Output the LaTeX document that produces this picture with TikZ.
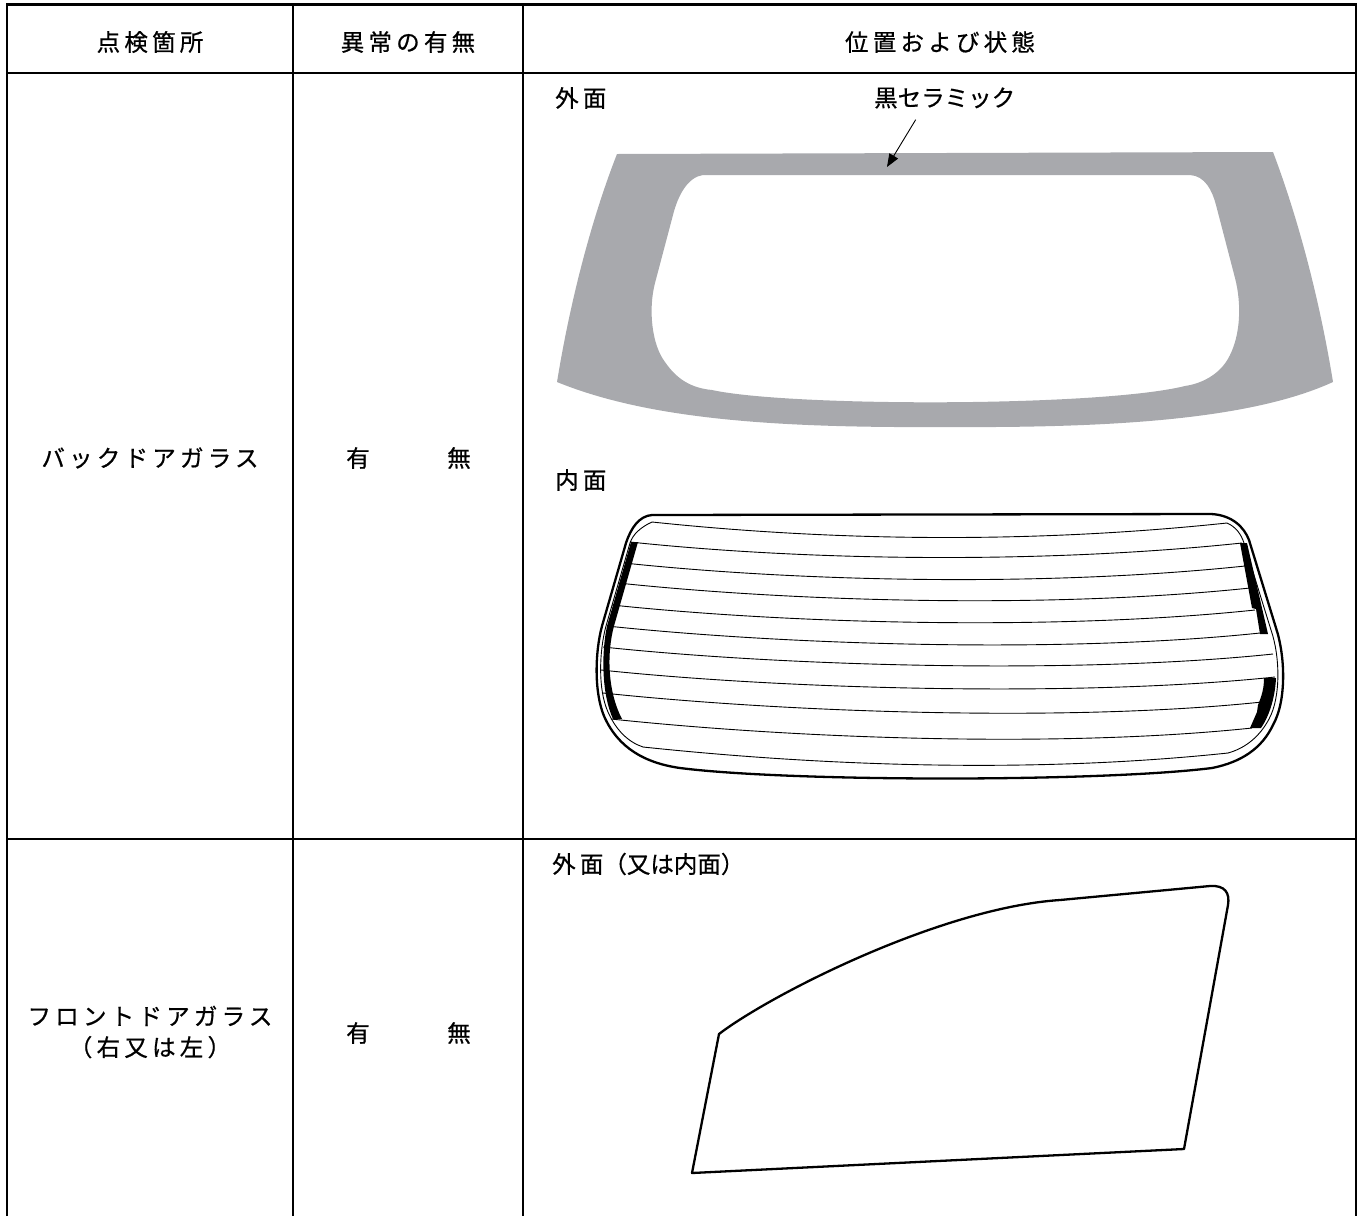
\documentclass[tikz,border=0pt]{standalone}
\usepackage{fontspec}
\newfontfamily\jpfont[LetterSpace=18,FakeBold=0.7]{Noto Sans CJK JP}
\newfontfamily\jpplain[FakeBold=0.7]{Noto Sans CJK JP}
\usepackage{tikz}
\usetikzlibrary{positioning,arrows.meta}
\definecolor{ceramic}{RGB}{168,169,173}

\begin{document}
\begin{tikzpicture}[x=1pt,y=-1pt,node distance=101pt]
\tikzstyle{cell}=[inner sep=0pt, font=\fontsize{23.5pt}{31pt}\jpfont]
\tikzstyle{every node}=[cell];
\tikzstyle{note}=[anchor=west]
\tikzstyle{frame}=[line width=2.6pt]
\tikzstyle{grid}=[line width=2pt]
\tikzstyle{glass}=[line width=2.3pt, line join=round]
\tikzstyle{wire}=[line width=0.9pt]

\useasboundingbox (0,0) rectangle (1360,1216);

% table
\draw[frame] (7,1216) -- (7,4.5) -- (1356,4.5) -- (1356,1216);
\draw[frame] (7,73) -- (1356,73);
\draw[grid] (293,4.5) -- (293,1216) (523,4.5) -- (523,1216);
\draw[grid] (7,839) -- (1356,839);

% header
\node (h1) at (150,42) {点検箇所};
\node (h2) at (408,42) {異常の有無};
\node (h3) at (940,42) {位置および状態};

% back door row
\node (bd) at (150,458) {バックドアガラス};
\node (bdyes) at (358,458) {有};
\node[right of = bdyes] (bdno) {無};
\node[note] (outside) at (555,98) {外面};
\node[note, font=\fontsize{23.5pt}{31pt}\jpplain] (ceramic) at (874,98) {黒セラミック};
\node[note] (inside) at (555,480) {内面};

% ceramic band
\fill[ceramic, even odd rule]
  (617,154) -- (1273,152) .. controls (1295,210) and (1318,290) .. (1333,382)
  .. controls (1250,420) and (1110,428) .. (945,427)
  .. controls (780,428) and (650,420) .. (557,382)
  .. controls (572,290) and (595,210) .. (617,154) -- cycle
  (703,175) .. controls (688,177) and (678,195) .. (673,215) -- (655,283)
  .. controls (648,310) and (652,345) .. (665,362)
  .. controls (676,378) and (690,388) .. (712,390)
  .. controls (790,407) and (1100,407) .. (1185,386)
  .. controls (1205,383) and (1222,372) .. (1230,355)
  .. controls (1240,335) and (1242,305) .. (1235,278) -- (1216,205)
  .. controls (1212,190) and (1205,176) .. (1190,175) -- cycle;
\coordinate (tip) at (887,167);
\draw[line width=0.9pt, -{Triangle[length=13pt,width=10pt]}] ([xshift=-29pt,yshift=-11pt]ceramic.south) -- (tip);

% inner face
\draw[glass] (652,515) -- (1211,514) .. controls (1232,515) and (1244,527) .. (1249,540)
  -- (1276,628) .. controls (1285,655) and (1287,700) .. (1273,725)
  .. controls (1262,748) and (1242,762) .. (1212,768)
  .. controls (1100,782) and (790,782) .. (680,768)
  .. controls (645,763) and (618,748) .. (604,716)
  .. controls (594,692) and (595,652) .. (602,626) -- (626,543)
  .. controls (631,528) and (639,516) .. (652,515) -- cycle;
\draw[wire] (652,522) .. controls (641,527) and (633,534) .. (630,543) -- (606,626)
  .. controls (599,652) and (598,690) .. (608,712)
  .. controls (616,730) and (628,742) .. (643,747);
\draw[wire] (1227,523) .. controls (1236,527) and (1241,534) .. (1244,543) -- (1271,630)
  .. controls (1280,656) and (1281,697) .. (1269,719)
  .. controls (1260,736) and (1246,748) .. (1228,753);
\foreach \xl/\yl/\xr/\yr in {652/522/1227/523, 630/542/1242/543, 624/563/1245/566,
  618/583/1250/588, 612/605/1255/610, 607/626/1260/633, 603/647/1273/654,
  601/670/1275/677, 603/693/1262/702, 611/719/1252/728, 643/747/1228/753}
  \draw[wire] (\xl,\yl) .. controls ({\xl+190},{\yl+20}) and ({\xr-190},{\yr+20}) .. (\xr,\yr);
\fill (631,542) -- (638,542) -- (614,626) .. controls (607,652) and (607,690) .. (622,719)
  -- (613,719) .. controls (602,695) and (601,655) .. (607,626) -- cycle;
\fill (1240,543) -- (1247,543) -- (1268,634) -- (1260,634) -- (1256,609) -- (1252,608) -- cycle;
\fill (1264,678) -- (1276,678) .. controls (1275,700) and (1268,718) .. (1261,728)
  -- (1250,728) -- (1257,712) -- (1258,705) .. controls (1262,695) and (1264,688) .. (1264,678) -- cycle;

% front door row
\node[align=center] (fd) at (150,1032) {フロントドアガラス\\（右又は左）};
\node (fdyes) at (358,1033) {有};
\node[right of = fdyes] (fdno) {無};
\node[note] (fdface) at (552,864) {外面{\jpplain （又は内面）}};
\draw[glass] (719,1034) .. controls (770,995) and (940,908) .. (1060,900) -- (1210,886)
  .. controls (1225,885) and (1230,893) .. (1228,905) -- (1184,1149) -- (692,1173) -- cycle;
\end{tikzpicture}
\end{document}
